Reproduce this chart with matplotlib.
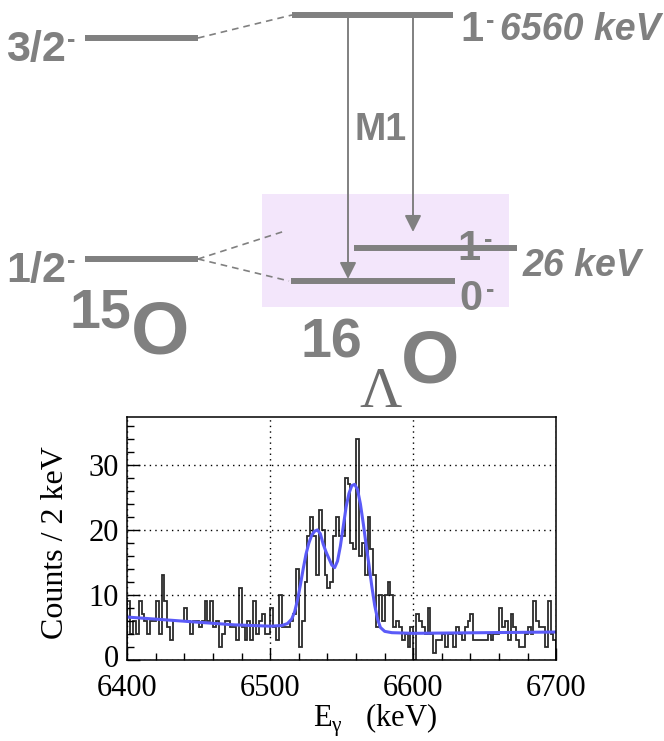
import numpy as np
import matplotlib.pyplot as plt
from matplotlib.patches import Rectangle
from matplotlib.transforms import ScaledTranslation

# --- spectrum data (2 keV bins, 6400-6700 keV) ---
bin_edges = np.arange(6400, 6702, 2)
counts = [
    9, 4, 6, 4, 9, 7, 6, 4, 6, 6, 9, 4, 13, 9, 5, 3, 6, 6, 6, 6, 8, 6, 4, 6, 6,
    5, 6, 9, 6, 9, 5, 6, 2, 4, 6, 6, 5, 5, 3, 11, 5, 3, 6, 3, 9, 4, 6, 7, 4, 4,
    8, 5, 3, 10, 5, 5, 5, 6, 7, 14, 2, 6, 12, 19, 22, 19, 13, 23, 20, 13, 11, 12, 19, 22, 19,
    19, 28, 27, 18, 17, 34, 16, 18, 13, 22, 17, 13, 5, 10, 6, 10, 12, 10, 5, 6, 5, 3, 4, 2, 5,
    0, 7, 6, 5, 4, 8, 4, 1, 3, 3, 4, 2, 4, 4, 2, 5, 4, 3, 5, 6, 7, 3, 3, 3, 3,
    3, 4, 3, 4, 4, 8, 5, 6, 3, 7, 5, 3, 2, 2, 4, 5, 4, 9, 6, 5, 5, 2, 9, 4, 3,
]

# fitted curve
fit_energy = [6400, 6425, 6450, 6475, 6500, 6508, 6512, 6515, 6517, 6519, 6521, 6523,
              6525, 6527, 6529, 6531, 6533, 6535, 6537, 6539, 6541, 6543, 6545, 6547,
              6549, 6551, 6553, 6555, 6557, 6559, 6561, 6563, 6565, 6567, 6569, 6571,
              6573, 6575, 6577, 6580, 6585, 6600, 6700]
fit_counts = [6.6, 6.2, 5.8, 5.4, 5.2, 5.3, 5.6, 6.3, 7.4, 9.2, 11.5, 14.0,
              16.3, 18.0, 19.2, 19.8, 20.0, 19.4, 17.8, 16.6, 15.6, 14.6, 14.2, 15.2,
              17.5, 20.5, 23.5, 25.6, 26.8, 27.0, 26.2, 24.0, 21.0, 17.7, 14.6, 11.3,
              8.4, 6.3, 5.0, 4.4, 4.2, 4.1, 4.3]

xticks = [6400, 6500, 6600, 6700]
yticks = [0, 10, 20, 30]

# --- level scheme labels ---
core_levels = ['3/2', '1/2']
hyp_spins = ['1', '1', '0']
hyp_energies = ['6560 keV', '26 keV']
transition = 'M1'

gray = '#808080'
sans = ['Liberation Sans', 'DejaVu Sans']
serif = ['Liberation Serif', 'DejaVu Serif']

plt.rcParams['mathtext.fontset'] = 'custom'
plt.rcParams['mathtext.rm'] = 'Liberation Serif'

fig = plt.figure(figsize=(6.64, 7.41), dpi=100)

# level diagram drawn in pixel coordinates
ad = fig.add_axes([0, 0, 1, 1])
ad.set_xlim(0, 664)
ad.set_ylim(741, 0)
ad.axis('off')

ad.add_patch(Rectangle((262, 194), 247, 113, color='#f3e6fb', lw=0))

lw_lev = 4.3
for x0, x1, y in [(85, 198, 38), (85, 198, 259), (292, 453, 15), (354, 517, 248), (291, 455, 281)]:
    ad.plot([x0, x1], [y, y], color=gray, lw=lw_lev, solid_capstyle='butt')

for (x0, y0), (x1, y1) in [((198, 38), (292, 15)), ((198, 259), (285, 231)), ((198, 259), (289, 281))]:
    ad.plot([x0, x1], [y0, y1], color=gray, lw=1.2, ls=(0, (4, 3)))

for x, y_tip in [(348, 279), (413, 232)]:
    ad.annotate('', xy=(x, y_tip), xytext=(x, 17),
                arrowprops=dict(arrowstyle='-|>,head_length=0.5,head_width=0.25',
                                mutation_scale=20, color=gray, lw=1.4,
                                shrinkA=0, shrinkB=0))

lab = dict(color=gray, fontweight='bold', family=sans)
ad.text(66, 50, core_levels[0], ha='right', va='center', fontsize=31, **lab)
ad.text(67, 40, '-', ha='left', va='center', fontsize=18, **lab)
ad.text(66, 271, core_levels[1], ha='right', va='center', fontsize=31, **lab)
ad.text(67, 261, '-', ha='left', va='center', fontsize=18, **lab)

ad.text(460, 30, hyp_spins[0], ha='left', va='center', fontsize=30, **lab)
ad.text(486, 21, '-', ha='left', va='center', fontsize=18, **lab)
ad.text(500, 30, hyp_energies[0], ha='left', va='center', fontsize=27, style='italic', **lab)

ad.text(457, 249, hyp_spins[1], ha='left', va='center', fontsize=30, **lab)
ad.text(484, 240, '-', ha='left', va='center', fontsize=18, **lab)
ad.text(523, 266, hyp_energies[1], ha='left', va='center', fontsize=27, style='italic', **lab)

ad.text(459, 299, hyp_spins[2], ha='left', va='center', fontsize=30, **lab)
ad.text(486, 290, '-', ha='left', va='center', fontsize=18, **lab)

ad.text(381, 130, transition, ha='center', va='center', fontsize=27, **lab)

ad.text(100, 313, '15', ha='center', va='center', fontsize=40, **lab)
ad.text(160, 334, 'O', ha='center', va='center', fontsize=54, **lab)
ad.text(331, 343, '16', ha='center', va='center', fontsize=40, **lab)
ad.text(430, 363, 'O', ha='center', va='center', fontsize=54, **lab)
ad.text(381, 393, '\u039b', ha='center', va='center', fontsize=42, color='#6e6e6e', family=serif)

# spectrum
ax = fig.add_axes([127.3 / 664, 1 - 660 / 741, 429 / 664, 243.3 / 741])
ax.stairs(counts, bin_edges, color='#2b2b2b', lw=1.3)
ax.plot(fit_energy, fit_counts, color='#5b5bf8', lw=2.2)
ax.set_xlim(6400, 6700)
ax.set_ylim(0, 37.4)
ax.set_xticks(xticks)
ax.set_yticks(yticks)
ax.set_xticks(np.arange(6400, 6701, 20), minor=True)
ax.set_yticks(np.arange(0, 37, 2), minor=True)
ax.grid(True, which='major', color='black', lw=1.0, ls=(0, (1, 3)))
ax.tick_params(which='major', direction='in', length=9, width=1, labelsize=22)
ax.tick_params(axis='x', which='major', pad=10)
ax.tick_params(axis='y', which='major', pad=6)
ax.tick_params(which='minor', direction='in', length=5, width=1)
for lbl in ax.get_xticklabels() + ax.get_yticklabels():
    lbl.set_family(serif)
for s in ax.spines.values():
    s.set_linewidth(1.1)
# lift the "0" label a little so it clears "6400"
zero_lbl = ax.get_yticklabels()[0]
zero_lbl.set_transform(zero_lbl.get_transform() + ScaledTranslation(0, 4 / 100, fig.dpi_scale_trans))

fig.text(375 / 664, 1 - 720 / 741, r'E$_{\mathregular{\gamma}}$   (keV)', ha='center', va='center',
         fontsize=22, family=serif)
fig.text(56 / 664, 1 - 543 / 741, 'Counts / 2 keV', ha='center', va='center', rotation=90,
         fontsize=23, family=serif)

fig.savefig('out.png', dpi=100)
